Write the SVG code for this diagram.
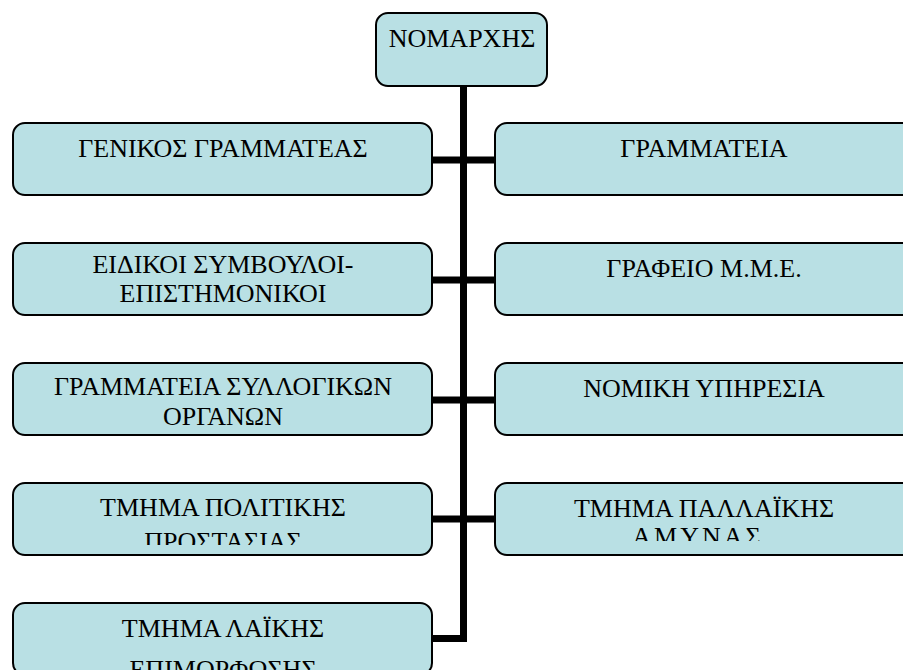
<svg xmlns="http://www.w3.org/2000/svg" width="903" height="670" viewBox="0 0 903 670">
  <style>
    .box { fill: #b9e0e4; stroke: #000; stroke-width: 2; }
    .lbl { font-family: "Liberation Serif", "Times New Roman", serif; font-size: 26px; fill: #000; text-anchor: middle; }
    .wire { stroke: #000; stroke-width: 7; fill: none; }
  </style>
  <defs>
    <clipPath id="clipL4"><rect x="0" y="480" width="460" height="65"/></clipPath>
    <clipPath id="clipR4"><rect x="490" y="480" width="413" height="61"/></clipPath>
  </defs>

  <!-- connectors -->
  <g id="connectors">
    <path class="wire" d="M463.5 86 V642"/>
    <path class="wire" d="M432 160 H495"/>
    <path class="wire" d="M432 280 H495"/>
    <path class="wire" d="M432 400 H495"/>
    <path class="wire" d="M432 519 H495"/>
    <path class="wire" d="M432 638.5 H463.5"/>
  </g>

  <!-- head -->
  <g id="nomarxis">
    <rect class="box" x="376" y="13" width="171" height="73" rx="12"/>
    <text class="lbl" x="462" y="47">ΝΟΜΑΡΧΗΣ</text>
  </g>

  <!-- left column -->
  <g id="genikos-grammateas">
    <rect class="box" x="13" y="123" width="419" height="72" rx="12"/>
    <text class="lbl" x="223" y="157">ΓΕΝΙΚΟΣ ΓΡΑΜΜΑΤΕΑΣ</text>
  </g>
  <g id="eidikoi-symvouloi">
    <rect class="box" x="13" y="243" width="419" height="72" rx="12"/>
    <text class="lbl" x="223" y="273">ΕΙΔΙΚΟΙ ΣΥΜΒΟΥΛΟΙ-</text>
    <text class="lbl" x="223" y="302">ΕΠΙΣΤΗΜΟΝΙΚΟΙ</text>
  </g>
  <g id="grammateia-syllogikon">
    <rect class="box" x="13" y="363" width="419" height="72" rx="12"/>
    <text class="lbl" x="223" y="395">ΓΡΑΜΜΑΤΕΙΑ ΣΥΛΛΟΓΙΚΩΝ</text>
    <text class="lbl" x="223" y="425">ΟΡΓΑΝΩΝ</text>
  </g>
  <g id="politiki-prostasia">
    <rect class="box" x="13" y="483" width="419" height="72" rx="12"/>
    <text class="lbl" x="223" y="516">ΤΜΗΜΑ ΠΟΛΙΤΙΚΗΣ</text>
    <text class="lbl" x="223" y="550" clip-path="url(#clipL4)">ΠΡΟΣΤΑΣΙΑΣ</text>
  </g>
  <g id="laiki-epimorfosi">
    <rect class="box" x="13" y="603" width="419" height="72" rx="12"/>
    <text class="lbl" x="223" y="637">ΤΜΗΜΑ ΛΑΪΚΗΣ</text>
    <text class="lbl" x="223" y="678">ΕΠΙΜΟΡΦΩΣΗΣ</text>
  </g>

  <!-- right column -->
  <g id="grammateia">
    <rect class="box" x="495" y="123" width="419" height="72" rx="12"/>
    <text class="lbl" x="704" y="157">ΓΡΑΜΜΑΤΕΙΑ</text>
  </g>
  <g id="grafeio-mme">
    <rect class="box" x="495" y="243" width="419" height="72" rx="12"/>
    <text class="lbl" x="704" y="277">ΓΡΑΦΕΙΟ Μ.Μ.Ε.</text>
  </g>
  <g id="nomiki-ypiresia">
    <rect class="box" x="495" y="363" width="419" height="72" rx="12"/>
    <text class="lbl" x="704" y="397">ΝΟΜΙΚΗ ΥΠΗΡΕΣΙΑ</text>
  </g>
  <g id="pallaiki-amyna">
    <rect class="box" x="495" y="483" width="419" height="72" rx="12"/>
    <text class="lbl" x="704" y="517">ΤΜΗΜΑ ΠΑΛΛΑΪΚΗΣ</text>
    <text class="lbl" x="698" y="545" letter-spacing="3" clip-path="url(#clipR4)">ΑΜΥΝΑΣ</text>
  </g>
</svg>
